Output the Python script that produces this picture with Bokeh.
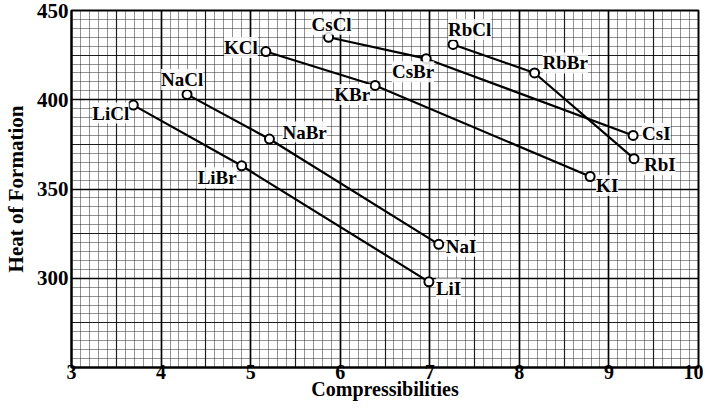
from bokeh.plotting import figure
from bokeh.models import (ColumnDataSource, SingleIntervalTicker, FixedTicker, Grid)
from bokeh.core.properties import value, field
from bokeh.embed import file_html
from bokeh.resources import INLINE

# ---- data ----
li_names = ["LiCl", "LiBr", "LiI"]
li_x = [3.69, 4.90, 6.99]
li_y = [397, 363, 298]

na_names = ["NaCl", "NaBr", "NaI"]
na_x = [4.29, 5.21, 7.10]
na_y = [403, 378, 319]

k_names = ["KCl", "KBr", "KI"]
k_x = [5.17, 6.39, 8.79]
k_y = [427, 408, 357]

cs_names = ["CsCl", "CsBr", "CsI"]
cs_x = [5.87, 6.96, 9.27]
cs_y = [435, 423, 380]

rb_names = ["RbCl", "RbBr", "RbI"]
rb_x = [7.26, 8.17, 9.28]
rb_y = [431, 415, 367]

x_ticks = [3, 4, 5, 6, 7, 8, 9, 10]
y_ticks = [300, 350, 400, 450]

# label placement (screen pixel offsets from each point, alignment)
label_place = {
    "LiCl": (-4, 8, "right"), "LiBr": (-5, 12, "right"), "LiI": (7, 7, "left"),
    "NaCl": (-5, -15, "center"), "NaBr": (13, -7, "left"), "NaI": (7, 2, "left"),
    "KCl": (-8, -4, "right"), "KBr": (-5, 9, "right"), "KI": (6, 9, "left"),
    "CsCl": (3, -13, "center"), "CsBr": (8, 13, "right"), "CsI": (9, -2, "left"),
    "RbCl": (-5, -15, "left"), "RbBr": (8, -10, "left"), "RbI": (10, 6, "left"),
}

SERIF = value("Liberation Serif")

p = figure(width=703, height=403, x_range=(3, 10), y_range=(250, 450),
           output_backend="svg", toolbar_location=None,
           min_border_left=63, min_border_right=5, min_border_top=10,
           min_border_bottom=36, background_fill_color="white",
           border_fill_color="white")

p.outline_line_color = "black"
p.outline_line_width = 2

# graph paper grid
p.xgrid.ticker = SingleIntervalTicker(interval=1, num_minor_ticks=10)
p.ygrid.ticker = SingleIntervalTicker(interval=50, num_minor_ticks=10)
for g in (p.xgrid, p.ygrid):
    g.grid_line_color = "black"
    g.grid_line_width = 1.6
    g.grid_line_alpha = 0.95
    g.minor_grid_line_color = "#222222"
    g.minor_grid_line_alpha = 0.55
    g.minor_grid_line_width = 0.9
p.add_layout(Grid(dimension=0, ticker=SingleIntervalTicker(interval=0.5),
                  grid_line_color="black", grid_line_width=1.2, grid_line_alpha=0.8))
p.add_layout(Grid(dimension=1, ticker=SingleIntervalTicker(interval=25),
                  grid_line_color="black", grid_line_width=1.2, grid_line_alpha=0.8))

# axes
p.xaxis.ticker = FixedTicker(ticks=x_ticks)
p.yaxis.ticker = FixedTicker(ticks=y_ticks)
p.xaxis.axis_label = "Compressibilities"
p.yaxis.axis_label = "Heat of Formation"
for ax in (p.xaxis, p.yaxis):
    ax.axis_line_color = "black"
    ax.axis_line_width = 2
    ax.major_tick_line_color = None
    ax.minor_tick_line_color = None
    ax.major_tick_out = 0
    ax.major_tick_in = 0
    ax.major_label_text_font = "Liberation Serif"
    ax.major_label_text_font_style = "bold"
    ax.major_label_text_font_size = "21px"
    ax.major_label_text_color = "black"
    ax.axis_label_text_font = "Liberation Serif"
    ax.axis_label_text_font_style = "bold"
    ax.axis_label_text_font_size = "21px"
    ax.axis_label_text_color = "black"
p.xaxis.major_label_text_font_size = "20px"
p.xaxis.axis_label_text_font_size = "20px"
p.xaxis.major_label_standoff = -3
p.xaxis.axis_label_standoff = -4
p.yaxis.major_label_standoff = 3
p.yaxis.axis_label_standoff = 6

# series
series = [(li_names, li_x, li_y), (na_names, na_x, na_y), (k_names, k_x, k_y),
          (cs_names, cs_x, cs_y), (rb_names, rb_x, rb_y)]

all_names, all_x, all_y = [], [], []
for names, xs, ys in series:
    p.line(xs, ys, line_color="black", line_width=2.2)
    all_names += names
    all_x += xs
    all_y += ys

p.scatter(all_x, all_y, marker="circle", size=9, fill_color="white",
          line_color="black", line_width=2)

lab = ColumnDataSource(dict(
    x=all_x, y=all_y, text=all_names,
    dx=[label_place[n][0] for n in all_names],
    dy=[label_place[n][1] for n in all_names],
    align=[label_place[n][2] for n in all_names],
))
p.text(x="x", y="y", text="text", source=lab, x_offset="dx", y_offset="dy",
       text_align=field("align"), text_baseline="middle",
       text_font=SERIF, text_font_style="bold", text_font_size="19px",
       text_color="black", background_fill_color="white",
       background_fill_alpha=0.85)

open("out.html", "w").write(file_html(p, INLINE))
